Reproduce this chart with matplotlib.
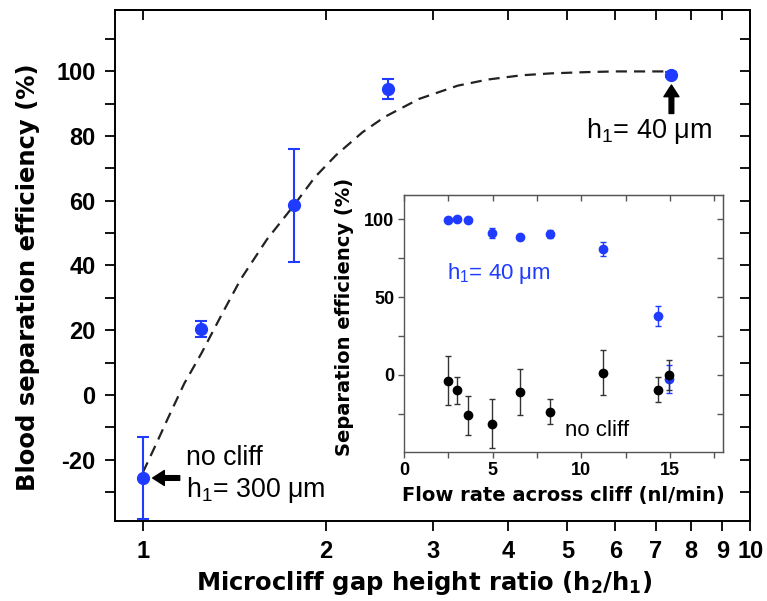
import matplotlib
matplotlib.use('Agg')
import matplotlib.pyplot as plt
from matplotlib.ticker import FixedLocator, FixedFormatter, MultipleLocator, NullLocator, NullFormatter

plt.rcParams['font.family'] = ['Liberation Sans', 'DejaVu Sans']
plt.rcParams['mathtext.fontset'] = 'custom'
plt.rcParams['mathtext.rm'] = 'Liberation Sans'
plt.rcParams['mathtext.bf'] = 'DejaVu Sans:bold'
plt.rcParams['mathtext.it'] = 'Liberation Sans:italic'
plt.rcParams['axes.unicode_minus'] = False

# ---------------- data ----------------
# main panel: separation efficiency vs gap height ratio
ratio = [1.0, 1.245, 1.775, 2.53, 7.4]
eff = [-25.7, 20.4, 58.6, 94.6, 99.0]
eff_err = [12.7, 2.4, 17.5, 3.2, 0.8]

# dashed guide curve
fit_ratio = [1.0, 1.05, 1.1, 1.17, 1.25, 1.35, 1.45, 1.6, 1.77, 1.92, 2.08, 2.3, 2.5, 2.85, 3.3, 3.7, 4.2, 4.7, 5.4, 6.0, 6.7, 7.4]
fit_eff = [-24.0, -15.5, -7.2, 3.5, 13.0, 25.0, 35.8, 48.0, 58.4, 67.3, 74.1, 81.2, 85.9, 91.5, 95.6, 97.5, 98.8, 99.4, 99.8, 100.0, 100.0, 100.0]

main_xticks = [1, 2, 3, 4, 5, 6, 7, 8, 9, 10]
main_xlabels = ['1', '2', '3', '4', '5', '6', '7', '8', '9', '10']

# inset: separation efficiency vs flow rate
flow = [2.49, 3.01, 3.62, 4.98, 6.55, 8.24, 11.25, 14.31, 14.98]
eff40 = [99.4, 100.4, 99.2, 91.2, 88.3, 90.4, 81.0, 37.8, -2.8]
err40 = [1.0, 1.0, 1.0, 3.0, 1.5, 2.5, 4.5, 6.3, 9.0]
eff_nc = [-3.8, -10.0, -25.9, -31.4, -10.9, -23.5, 1.5, -9.6, 0.0]
err_nc = [15.7, 8.5, 12.6, 15.8, 15.0, 8.0, 14.6, 8.0, 9.4]

BLUE = '#1f3bff'
LABEL_FONT = ['DejaVu Sans']

fig = plt.figure(figsize=(7.67, 6.01), dpi=100)

# ---------------- main axes ----------------
ax = fig.add_axes([0.150, 0.1331, 0.828, 0.8503])
ax.set_xscale('log')
ax.set_xlim(0.9, 10)
ax.set_ylim(-39, 119)

ax.plot(fit_ratio, fit_eff, color='#222222', lw=1.6, ls=(0, (5, 3.2)), zorder=2)
ax.errorbar(ratio, eff, yerr=eff_err, fmt='o', color=BLUE, ms=8.5, mec=BLUE,
            ecolor=BLUE, elinewidth=1.5, capsize=4, capthick=1.5, zorder=3)

ax.xaxis.set_major_locator(FixedLocator(main_xticks))
ax.xaxis.set_major_formatter(FixedFormatter(main_xlabels))
ax.xaxis.set_minor_locator(NullLocator())
ax.xaxis.set_minor_formatter(NullFormatter())
ax.yaxis.set_major_locator(MultipleLocator(20))
ax.yaxis.set_minor_locator(MultipleLocator(10))
ax.tick_params(which='both', direction='out', length=7, width=1.3, labelsize=17, pad=7)
for lbl in ax.get_xticklabels() + ax.get_yticklabels():
    lbl.set_fontweight('bold')
for s in ax.spines.values():
    s.set_linewidth(1.4)

secx = ax.secondary_xaxis('top')
secx.xaxis.set_major_locator(FixedLocator(main_xticks))
secx.xaxis.set_minor_locator(NullLocator())
secx.xaxis.set_major_formatter(NullFormatter())
secx.xaxis.set_minor_formatter(NullFormatter())
secx.tick_params(which='both', direction='in', length=7, width=1.3)
secx.spines['top'].set_linewidth(1.4)

secy = ax.secondary_yaxis('right')
secy.yaxis.set_major_locator(MultipleLocator(20))
secy.yaxis.set_minor_locator(MultipleLocator(10))
secy.yaxis.set_major_formatter(NullFormatter())
secy.tick_params(which='both', direction='in', length=7, width=1.3)
secy.spines['right'].set_linewidth(1.4)

fig.text(424 / 767, 1 - 590 / 601, r'Microcliff gap height ratio (h$_\mathbf{2}$/h$_\mathbf{1}$)',
         ha='center', va='baseline', fontsize=17.5, fontweight='bold', family=LABEL_FONT)
fig.text(28.5 / 767, 1 - 277.5 / 601, 'Blood separation efficiency (%)', rotation=90,
         ha='center', va='center', fontsize=17.5, fontweight='bold', family=LABEL_FONT)

# annotations main
ax.text(1.176, -21.6, 'no cliff', fontsize=19.3, ha='left', va='baseline')
ax.text(1.176, -31.5, r'h$_\mathrm{1}$= 300 μm', fontsize=19.3, ha='left', va='baseline')
ax.annotate('', xy=(1.038, -25.7), xytext=(1.15, -25.7),
            arrowprops=dict(arrowstyle='simple,head_length=0.7,head_width=0.9,tail_width=0.28',
                            color='black', mutation_scale=12, shrinkA=0, shrinkB=0))
ax.text(5.37, 79.4, r'h$_\mathrm{1}$= 40 μm', fontsize=19.5, ha='left', va='baseline')
ax.annotate('', xy=(7.42, 95.8), xytext=(7.42, 87.0),
            arrowprops=dict(arrowstyle='simple,head_length=0.7,head_width=0.9,tail_width=0.28',
                            color='black', mutation_scale=12, shrinkA=0, shrinkB=0))

# ---------------- inset ----------------
axin = fig.add_axes([0.5267, 0.2479, 0.4159, 0.4276])
axin.set_zorder(5)
axin.set_facecolor('white')
axin.set_xlim(0, 18)
axin.set_ylim(-49.5, 115.5)

axin.errorbar(flow, eff40, yerr=err40, fmt='o', color=BLUE, ms=6, mec=BLUE,
              ecolor=BLUE, elinewidth=1.0, capsize=2, capthick=1.0, zorder=3)
axin.errorbar(flow, eff_nc, yerr=err_nc, fmt='o', color='black', ms=6, mec='black',
              ecolor='#333333', elinewidth=1.0, capsize=2, capthick=1.0, zorder=4)

axin.xaxis.set_major_locator(MultipleLocator(5))
axin.xaxis.set_minor_locator(MultipleLocator(2.5))
axin.yaxis.set_major_locator(MultipleLocator(50))
axin.yaxis.set_minor_locator(MultipleLocator(25))
axin.tick_params(which='both', direction='out', length=4, width=1.0, labelsize=13,
                 pad=3, color='#555555')
for lbl in axin.get_xticklabels() + axin.get_yticklabels():
    lbl.set_fontweight('bold')
for s in axin.spines.values():
    s.set_linewidth(1.0)
    s.set_color('#555555')

sx = axin.secondary_xaxis('top')
sx.xaxis.set_major_locator(MultipleLocator(5))
sx.xaxis.set_minor_locator(MultipleLocator(2.5))
sx.xaxis.set_major_formatter(NullFormatter())
sx.tick_params(which='both', direction='in', length=4, width=1.0, color='#555555')
sx.spines['top'].set_color('#555555')
sy = axin.secondary_yaxis('right')
sy.yaxis.set_major_locator(MultipleLocator(50))
sy.yaxis.set_minor_locator(MultipleLocator(25))
sy.yaxis.set_major_formatter(NullFormatter())
sy.tick_params(which='both', direction='in', length=4, width=1.0, color='#555555')
sy.spines['right'].set_color('#555555')

axin.text(2.42, 61.5, r'h$_\mathrm{1}$= 40 μm', fontsize=16, color=BLUE, ha='left', va='baseline')
axin.text(9.1, -39, 'no cliff', fontsize=16, color='black', ha='left', va='baseline')

fig.text(563.5 / 767, 1 - 496 / 601, 'Flow rate across cliff (nl/min)',
         ha='center', va='center', fontsize=14, fontweight='bold', family=LABEL_FONT)
fig.text(345 / 767, 1 - 316.5 / 601, 'Separation efficiency (%)', rotation=90,
         ha='center', va='center', fontsize=14, fontweight='bold', family=LABEL_FONT)

fig.savefig('out.png', dpi=100)
